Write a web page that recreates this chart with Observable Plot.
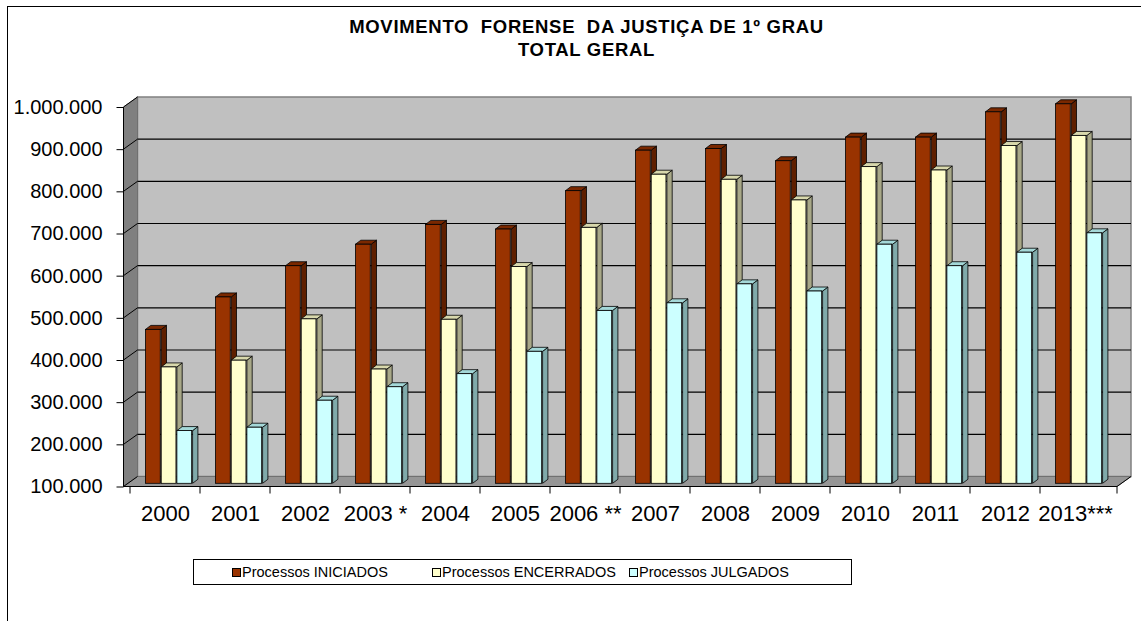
<!DOCTYPE html>
<html><head><meta charset="utf-8">
<script src="https://cdn.jsdelivr.net/npm/d3@7"></script>
<script src="https://cdn.jsdelivr.net/npm/@observablehq/plot@0.6"></script>
<style>
body{margin:0;background:#fff;font-family:"Liberation Sans",Arial,sans-serif;width:1141px;height:621px;overflow:hidden;position:relative;}
#frame{position:absolute;left:7px;top:6px;width:1140px;height:620px;border-left:1.5px solid #000;border-top:1.5px solid #000;}
#title{position:absolute;left:32px;top:15px;width:1109px;text-align:center;font-weight:bold;font-size:18.5px;line-height:23px;color:#000;letter-spacing:0.7px;}
#chart{position:absolute;left:0;top:60px;}
#legend{position:absolute;left:193px;top:559px;width:657px;height:24px;border:1px solid #000;background:#fff;font-size:14.5px;color:#000;}
#legend .item{position:absolute;top:4px;white-space:nowrap;line-height:16px;}
#legend .sw{display:inline-block;width:7px;height:7px;border:1px solid #000;margin-right:1px;vertical-align:0px;}
</style></head>
<body>
<div id="frame"></div>
<div id="title">MOVIMENTO&nbsp; FORENSE&nbsp; DA JUSTIÇA DE 1º GRAU<br>TOTAL GERAL</div>
<div id="chart"></div>
<div id="legend"></div>
<script>
const years = ["2000","2001","2002","2003 *","2004","2005","2006 **","2007","2008","2009","2010","2011","2012","2013***"];
const iniciados = [465000,542000,616000,667000,714000,703000,794000,890000,894000,865000,921000,921000,981000,1000000];
const encerrados = [376000,392000,490000,371000,489000,614000,707000,833000,821000,772000,851000,843000,901000,925000];
const julgados = [225000,233000,297000,329000,360000,413000,510000,528000,573000,556000,667000,616000,648000,694000];
const seriesNames = ["Processos INICIADOS","Processos ENCERRADOS","Processos JULGADOS"];
const yTicks = [100000,200000,300000,400000,500000,600000,700000,800000,900000,1000000];

const W = 1141, H = 480, ML = 123.5, MR = 24, MT = 47, MB = 53.5;
const step = (W - ML - MR) / years.length;
const D = 14, DY = 10;          // wall depth offset
const BDX = 3.7, BDY = -3.2;    // bar placement depth
const SX = 5.3, SY = 4;         // bar depth
const BW = 15.7;
const groupLeft = 11.8;

const fronts = ["#993300","#FFFFCC","#CCFFFF"];
const sides  = ["#5E1F00","#A8A888","#80AAAA"];
const tops   = ["#7A2800","#D8D8AC","#A4D8D8"];
const seriesVals = [iniciados, encerrados, julgados];

const rows = years.map((year, i) => ({year, ini: iniciados[i], enc: encerrados[i], jul: julgados[i]}));
const keys = ["ini","enc","jul"];

const locale = d3.formatLocale({decimal: ",", thousands: ".", grouping: [3], currency: ["", ""]});
const fmt = locale.format(",");

function walls(index, scales, values, dims) {
  const {width, height, marginLeft: L, marginRight, marginTop: T, marginBottom} = dims;
  const R = width - marginRight, B = height - marginBottom;
  const g = d3.create("svg:g");
  g.append("rect").attr("x", L + D).attr("y", T - DY).attr("width", R - L).attr("height", B - T)
    .attr("fill", "#C0C0C0").attr("stroke", "#808080").attr("stroke-width", 1.5);
  g.append("path").attr("d", `M${L},${T}L${L + D},${T - DY}L${L + D},${B - DY}L${L},${B}Z`)
    .attr("fill", "#808080").attr("stroke", "#707070");
  g.append("path").attr("d", `M${L},${B}L${L + D},${B - DY}L${R + D},${B - DY}L${R},${B}Z`)
    .attr("fill", "#969696").attr("stroke", "#707070");
  for (const t of yTicks) {
    const y = scales.y(t);
    if (t !== yTicks[0] && t !== yTicks[yTicks.length - 1]) {
      g.append("line").attr("x1", L + D).attr("x2", R + D).attr("y1", y - DY).attr("y2", y - DY)
        .attr("stroke", "#000").attr("stroke-width", 1.2);
    }
    g.append("line").attr("x1", L).attr("x2", L + D).attr("y1", y).attr("y2", y - DY)
      .attr("stroke", "#000").attr("stroke-width", 1);
  }
  g.append("line").attr("x1", L).attr("x2", L).attr("y1", T).attr("y2", B).attr("stroke", "#000");
  g.append("line").attr("x1", L).attr("x2", R).attr("y1", B).attr("y2", B).attr("stroke", "#000");
  g.append("line").attr("x1", R).attr("x2", R + D).attr("y1", B).attr("y2", B - DY).attr("stroke", "#000");
  for (const yr of years) {
    const x = scales.x(yr);
    g.append("line").attr("x1", x).attr("x2", x).attr("y1", B).attr("y2", B + 7).attr("stroke", "#000");
  }
  g.append("line").attr("x1", R).attr("x2", R).attr("y1", B).attr("y2", B + 7).attr("stroke", "#000");
  return g.node();
}

function faces(s) {
  return (index, scales, values, dims) => {
    const g = d3.create("svg:g").attr("stroke", "#000").attr("stroke-width", 0.8).attr("stroke-linejoin", "round");
    const il = groupLeft + s * BW;
    years.forEach((yr, i) => {
      const x0 = scales.x(yr) + il + BDX, x1 = x0 + BW;
      const yt = scales.y(seriesVals[s][i]) + BDY;
      const yb = scales.y(yTicks[0]) + BDY;
      g.append("path").attr("fill", sides[s])
        .attr("d", `M${x1},${yt}L${x1 + SX},${yt - SY}L${x1 + SX},${yb - SY}L${x1},${yb}Z`);
      g.append("path").attr("fill", tops[s])
        .attr("d", `M${x0},${yt}L${x0 + SX},${yt - SY}L${x1 + SX},${yt - SY}L${x1},${yt}Z`);
    });
    return g.node();
  };
}

const marks = [walls,
  Plot.axisY(yTicks, {tickSize: 7, tickPadding: 14.5, fontSize: 20, tickFormat: fmt, label: null, stroke: "#000", fill: "#000"}),
  Plot.axisX({tickSize: 0, tickPadding: 18.5, fontSize: 22, label: null, fill: "#000"})
];
keys.forEach((k, s) => {
  const il = groupLeft + s * BW;
  marks.push(faces(s));
  marks.push(Plot.barY(rows, {x: "year", y1: yTicks[0], y2: k, fill: fronts[s], stroke: "#000", strokeWidth: 0.8,
    insetLeft: il, insetRight: step - il - BW, dx: BDX, dy: BDY}));
});

const plot = Plot.plot({
  width: W, height: H,
  marginLeft: ML, marginRight: MR, marginTop: MT, marginBottom: MB,
  style: {fontFamily: "Liberation Sans, Arial, sans-serif", background: "transparent", overflow: "visible"},
  x: {type: "band", domain: years, padding: 0},
  y: {domain: [yTicks[0], yTicks[yTicks.length - 1]]},
  marks
});
document.getElementById("chart").appendChild(plot);

const legendLefts = [38, 238, 435];
const leg = document.getElementById("legend");
seriesNames.forEach((name, s) => {
  const it = document.createElement("div");
  it.className = "item";
  it.style.left = legendLefts[s] + "px";
  it.innerHTML = `<span class="sw" style="background:${fronts[s]}"></span>${name}`;
  leg.appendChild(it);
});
</script>
</body></html>
